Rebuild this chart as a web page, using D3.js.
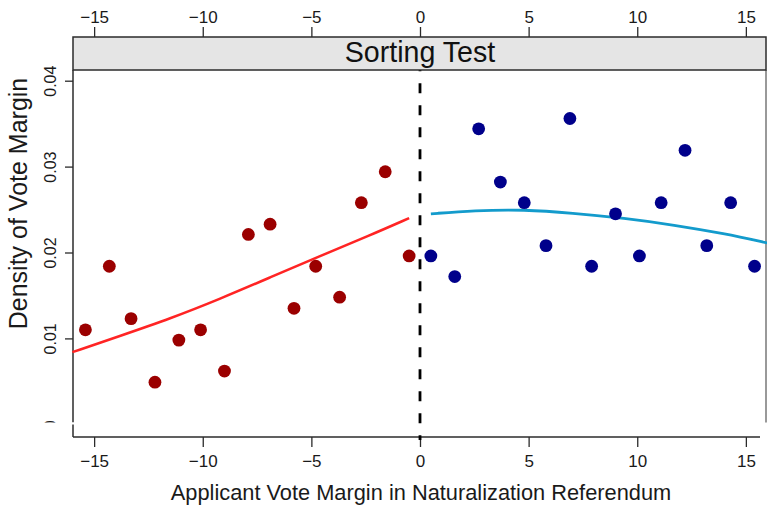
<!DOCTYPE html>
<html>
<head>
<meta charset="utf-8">
<script src="https://cdn.jsdelivr.net/npm/d3@7"></script>
<style>
  body { margin: 0; background: #fff; }
  svg { display: block; font-family: "Liberation Sans", Arial, sans-serif; }
</style>
</head>
<body>
<div id="chart"></div>
<script>
// vote margin bins (left / right of the threshold) and their densities
const leftMargin = [-15.4, -14.3, -13.3, -12.2, -11.1, -10.1, -9.0, -7.9, -6.9, -5.8, -4.8, -3.7, -2.7, -1.6, -0.5];
const leftDensity = [0.0110, 0.0184, 0.0123, 0.0049, 0.0098, 0.0110, 0.0062, 0.0221, 0.0233, 0.0135, 0.0184, 0.0148, 0.0258, 0.0294, 0.0196];
const rightMargin = [0.5, 1.6, 2.7, 3.7, 4.8, 5.8, 6.9, 7.9, 9.0, 10.1, 11.1, 12.2, 13.2, 14.3, 15.4];
const rightDensity = [0.0196, 0.0172, 0.0344, 0.0282, 0.0258, 0.0208, 0.0356, 0.0184, 0.0245, 0.0196, 0.0258, 0.0319, 0.0208, 0.0258, 0.0184];

// fitted curves
const leftFitX = [-16, -13.8, -11.5, -9.2, -6.9, -4.6, -2.3, -0.5];
const leftFitY = [0.0084, 0.0103, 0.0123, 0.0146, 0.0171, 0.0196, 0.0220, 0.0240];
const rightFitX = [0.5, 2.5, 4.8, 7.0, 9.4, 11.7, 14.0, 16];
const rightFitY = [0.0245, 0.0249, 0.0250, 0.0246, 0.0240, 0.0232, 0.0222, 0.0211];

const xTicks = [-15, -10, -5, 0, 5, 10, 15];
const yTicks = [0, 0.01, 0.02, 0.03, 0.04];
const yTickLabels = ["0", "0.01", "0.02", "0.03", "0.04"];
const stripTitle = "Sorting Test";
const xTitle = "Applicant Vote Margin in Naturalization Referendum";
const yTitle = "Density of Vote Margin";

class SortingPlot {
  constructor(_config) {
    this.config = {
      parentElement: _config.parentElement,
      containerWidth: _config.containerWidth || 767,
      containerHeight: _config.containerHeight || 505,
      panel: { left: 73, right: 766, top: 70, bottom: 437 },
      stripTop: 37,
      pointRadius: 6.4,
      axisColor: "#2b2b2b",
      textColor: "#1a1a1a"
    };
    this.initVis();
    this.renderVis();
  }

  initVis() {
    let vis = this;
    const p = vis.config.panel;

    vis.svg = d3.select(vis.config.parentElement)
      .append("svg")
      .attr("width", vis.config.containerWidth)
      .attr("height", vis.config.containerHeight);

    vis.xScale = d3.scaleLinear().domain([-16, 16]).range([72.4, 767.6]);
    vis.yScale = d3.scaleLinear().domain([0, 0.04]).range([424.3, 80.7]);

    // left axis with rotated labels
    vis.yAxis = d3.axisLeft(vis.yScale)
      .tickValues(yTicks)
      .tickFormat((d, i) => yTickLabels[i])
      .tickSize(8)
      .tickSizeOuter(0);

    vis.yAxisG = vis.svg.append("g")
      .attr("transform", `translate(${p.left},0)`)
      .call(vis.yAxis);
    vis.yAxisG.select(".domain").remove();
    vis.yAxisG.selectAll(".tick line").attr("stroke", vis.config.axisColor).attr("stroke-width", 1.3);
    vis.yAxisG.selectAll(".tick text")
      .attr("transform", "rotate(-90)")
      .attr("x", 0)
      .attr("y", -17)
      .attr("dy", 0)
      .attr("text-anchor", "middle")
      .attr("font-size", 16)
      .attr("fill", vis.config.textColor);

    vis.svg.append("line")
      .attr("x1", p.left).attr("x2", p.left)
      .attr("y1", p.top).attr("y2", 422.5)
      .attr("stroke", vis.config.axisColor).attr("stroke-width", 1.5);

    // the lower panel covers the bottom of the left axis
    vis.svg.append("rect")
      .attr("x", 0).attr("y", 422.5)
      .attr("width", p.left + 1).attr("height", 20)
      .attr("fill", "#fff");
    vis.svg.append("line")
      .attr("x1", p.left).attr("x2", p.left)
      .attr("y1", 424.5).attr("y2", p.bottom)
      .attr("stroke", vis.config.axisColor).attr("stroke-width", 1.5);

    // right border of the panel
    vis.svg.append("line")
      .attr("x1", p.right).attr("x2", p.right)
      .attr("y1", p.top).attr("y2", 422.5)
      .attr("stroke", "#555").attr("stroke-width", 1.2);

    // bottom axis
    vis.xAxisBottom = d3.axisBottom(vis.xScale)
      .tickValues(xTicks)
      .tickSize(10)
      .tickSizeOuter(0);
    vis.xAxisBottomG = vis.svg.append("g")
      .attr("transform", `translate(0,${p.bottom})`)
      .call(vis.xAxisBottom);
    vis.xAxisBottomG.select(".domain").remove();
    vis.xAxisBottomG.selectAll(".tick line").attr("stroke", vis.config.axisColor).attr("stroke-width", 1.3);
    vis.xAxisBottomG.selectAll(".tick text")
      .attr("y", 30).attr("dy", 0)
      .attr("font-size", 17)
      .attr("fill", vis.config.textColor);
    vis.svg.append("line")
      .attr("x1", p.left).attr("x2", 760)
      .attr("y1", p.bottom).attr("y2", p.bottom)
      .attr("stroke", vis.config.axisColor).attr("stroke-width", 1.5);

    // axis titles
    vis.svg.append("text")
      .attr("x", 421).attr("y", 500)
      .attr("text-anchor", "middle")
      .attr("font-size", 21.8)
      .attr("fill", vis.config.textColor)
      .text(xTitle);

    vis.svg.append("text")
      .attr("transform", "translate(27,203.5) rotate(-90)")
      .attr("text-anchor", "middle")
      .attr("font-size", 25)
      .attr("fill", vis.config.textColor)
      .text(yTitle);
  }

  renderVis() {
    let vis = this;
    const p = vis.config.panel;

    // threshold
    vis.svg.append("line")
      .attr("x1", vis.xScale(0)).attr("x2", vis.xScale(0))
      .attr("y1", 61.3).attr("y2", 440)
      .attr("stroke", "#000")
      .attr("stroke-width", 2.8)
      .attr("stroke-dasharray", "10,12");

    const line = d3.line()
      .x(d => vis.xScale(d[0]))
      .y(d => vis.yScale(d[1]))
      .curve(d3.curveBasis);

    vis.svg.append("path")
      .datum(d3.zip(leftFitX, leftFitY))
      .attr("d", line)
      .attr("fill", "none")
      .attr("stroke", "#ff2424")
      .attr("stroke-width", 2.6);

    vis.svg.append("path")
      .datum(d3.zip(rightFitX, rightFitY))
      .attr("d", line)
      .attr("fill", "none")
      .attr("stroke", "#139bcc")
      .attr("stroke-width", 2.8);

    vis.svg.append("g")
      .selectAll("circle")
      .data(d3.zip(leftMargin, leftDensity))
      .join("circle")
      .attr("cx", d => vis.xScale(d[0]))
      .attr("cy", d => vis.yScale(d[1]))
      .attr("r", vis.config.pointRadius)
      .attr("fill", "#9b0000");

    vis.svg.append("g")
      .selectAll("circle")
      .data(d3.zip(rightMargin, rightDensity))
      .join("circle")
      .attr("cx", d => vis.xScale(d[0]))
      .attr("cy", d => vis.yScale(d[1]))
      .attr("r", vis.config.pointRadius)
      .attr("fill", "#00008b");

    // strip with title and top axis
    vis.svg.append("rect")
      .attr("x", p.left).attr("y", vis.config.stripTop)
      .attr("width", p.right - p.left)
      .attr("height", p.top - vis.config.stripTop)
      .attr("fill", "#e5e5e5")
      .attr("stroke", vis.config.axisColor)
      .attr("stroke-width", 1.5);

    vis.svg.append("text")
      .attr("x", 420).attr("y", 61.5)
      .attr("text-anchor", "middle")
      .attr("font-size", 28.6)
      .attr("fill", "#111")
      .text(stripTitle);

    vis.xAxisTop = d3.axisTop(vis.xScale)
      .tickValues(xTicks)
      .tickSize(10)
      .tickSizeOuter(0);
    vis.xAxisTopG = vis.svg.append("g")
      .attr("transform", `translate(0,${vis.config.stripTop})`)
      .call(vis.xAxisTop);
    vis.xAxisTopG.select(".domain").remove();
    vis.xAxisTopG.selectAll(".tick line").attr("stroke", vis.config.axisColor).attr("stroke-width", 1.3);
    vis.xAxisTopG.selectAll(".tick text")
      .attr("y", -14).attr("dy", 0)
      .attr("font-size", 17)
      .attr("fill", vis.config.textColor);
  }
}

new SortingPlot({ parentElement: "#chart" });
</script>
</body>
</html>
